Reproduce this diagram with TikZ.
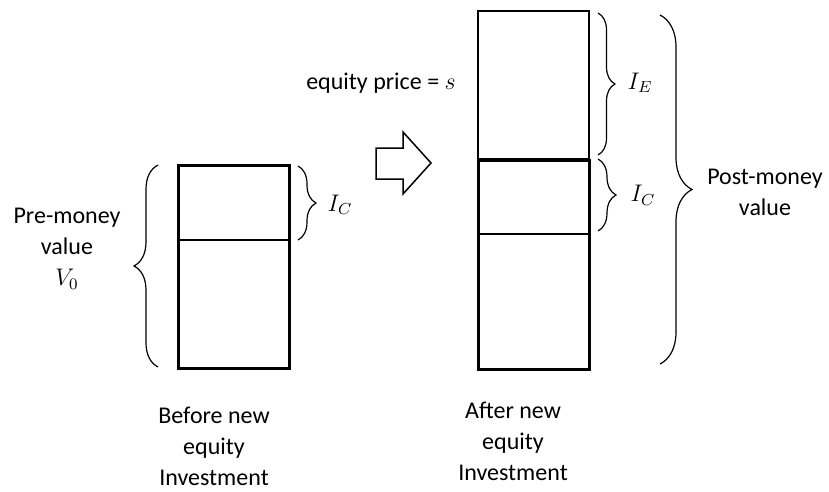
\documentclass[tikz,border=0pt]{standalone}
\usepackage{fontspec}
\setmainfont{Carlito}
\usetikzlibrary{decorations.pathreplacing}

\begin{document}
\begin{tikzpicture}[
    x=0.5pt,
    y=-0.5pt,
    block/.style={
        draw=black,
        line width=1.5pt
    },
    divider/.style={
        draw=black,
        line width=0.75pt
    },
    curly/.style={
        draw=black,
        line width=0.6pt,
        decorate,
        decoration={brace, amplitude=#1}
    },
    curly/.default=9pt,
    txt/.style={
        font=\fontsize{12}{15.5}\selectfont,
        align=center,
        inner sep=0pt
    },
    bigarrow/.style={
        draw=black,
        line width=0.75pt,
        line join=miter
    }
]

\useasboundingbox (0,0) rectangle (829,492);

% =====================================================
% Corners of the stacks
% =====================================================

\coordinate (L0) at (178,165);
\coordinate (L1) at (289,368);
\coordinate (LmidA) at (178,240);
\coordinate (LmidB) at (289,240);

\coordinate (RT0) at (478,11);
\coordinate (RT1) at (589,159);

\coordinate (R0) at (478,160);
\coordinate (R1) at (589,369);
\coordinate (RmidA) at (478,234);
\coordinate (RmidB) at (589,234);

% =====================================================
% Stacks
% =====================================================

\draw[block] (L0) rectangle (L1);
\draw[divider] (LmidA) -- (LmidB);

\draw[divider] (RT0) rectangle (RT1);
\draw[block] (R0) rectangle (R1);
\draw[divider] (RmidA) -- (RmidB);

% =====================================================
% Braces
% =====================================================

\coordinate (preB) at (158,367);
\coordinate (preT) at (158,165);
\draw[curly=12pt] (preB) -- (preT);

\coordinate (icLT) at (298,166);
\coordinate (icLB) at (298,240);
\draw[curly] (icLT) -- (icLB);

\coordinate (ieT) at (598,13);
\coordinate (ieB) at (598,155);
\draw[curly=8.5pt] (ieT) -- (ieB);

\coordinate (icRT) at (598,159);
\coordinate (icRB) at (598,231);
\draw[curly] (icRT) -- (icRB);

\coordinate (postT) at (660,15);
\coordinate (postB) at (660,364);
\draw[curly=16pt] (postT) -- (postB);

% =====================================================
% Block arrow
% =====================================================

\draw[bigarrow] (376,148) -- (403,148) -- (403,132) -- (431,163)
    -- (403,194) -- (403,179) -- (376,179) -- cycle;

% =====================================================
% Texts
% =====================================================

\node[txt] (pre) at (67,249) {Pre-money\\value\\$V_0$};
\node[txt] (post) at (765,192) {Post-money\\value};
\node[txt] (price) at (381,83) {equity price = $s$};

\node[txt] (ic1) at (340,205) {$I_C$};
\node[txt] (ie) at (640,83) {$I_E$};
\node[txt] (ic2) at (643,195) {$I_C$};

\node[txt] (before) at (214,446) {Before new\\equity\\Investment};
\node[txt] (after) at (513,441) {After new\\equity\\Investment};

\end{tikzpicture}
\end{document}
